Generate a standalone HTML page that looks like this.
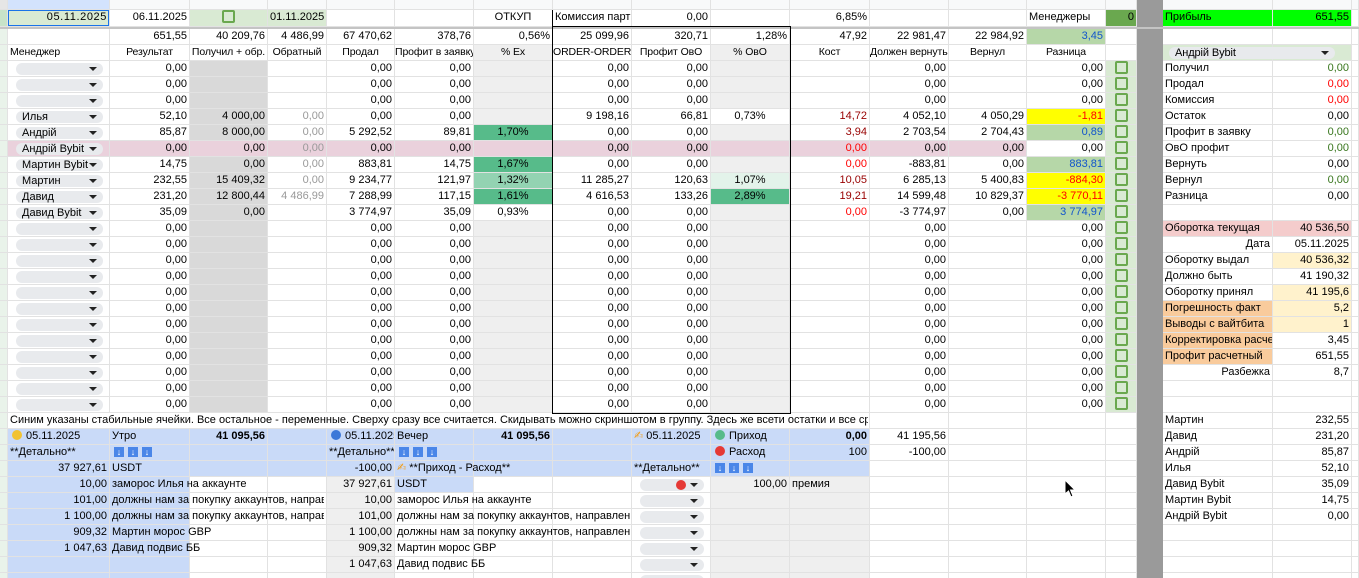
<!DOCTYPE html>
<html><head><meta charset="utf-8"><style>
*{margin:0;padding:0}
html,body{width:1359px;height:578px;overflow:hidden}
body{position:relative;background:#fff;font:11px "Liberation Sans","DejaVu Sans",sans-serif;color:#000}
.row{position:absolute;left:0;display:flex;height:16px;width:1359px}
.row>p{flex:none;box-sizing:border-box;border-right:1px solid #e2e2e2;border-bottom:1px solid #e2e2e2;height:100%;line-height:15px;padding:0 2px;white-space:nowrap;overflow:hidden;text-align:right}
.row>p:nth-child(1){width:8px;background:#e9f3ea}
.row>p:nth-child(2){width:102px}.row>p:nth-child(3){width:80px}.row>p:nth-child(4){width:78px}
.row>p:nth-child(5){width:59px}.row>p:nth-child(6){width:68px}.row>p:nth-child(7){width:79px}
.row>p:nth-child(8){width:79px}.row>p:nth-child(9){width:79px}.row>p:nth-child(10){width:79px}
.row>p:nth-child(11){width:79px}.row>p:nth-child(12){width:80px}.row>p:nth-child(13){width:79px}
.row>p:nth-child(14){width:78px}.row>p:nth-child(15){width:79px}.row>p:nth-child(16){width:31px}
.row>p:nth-child(17){width:26px;background:#9a9a9a;border-color:#9a9a9a}
.row>p:nth-child(18){width:110px}.row>p:nth-child(19){width:79px}.row>p:nth-child(20){width:7px}
.d>p:nth-child(4){background:#d9d9d9}
.d>p:nth-child(8),.d>p:nth-child(11){background:#efefef}
.d>p:nth-child(16){background:#d9ead3}
.row>p.l{text-align:left}.row>p.c{text-align:center}
.hd>p{padding:0;font-size:10.5px;letter-spacing:-0.1px}
.g{color:#999}.rd{color:#f00}.dr{color:#980000}.bl{color:#1155cc}.gr{color:#38761d}
.row>p.pk{background:#ead1dc}
.row>p.gn{background:#57bb8a}.row>p.gn2{background:#93d3b2}.row>p.gn3{background:#e3f3ea}
.row>p.yl{background:#ffff00;color:#f00}.row>p.lg{background:#b6d7a8;color:#1155cc}
.row>p.b{background:#c9daf8}.row>p.e{background:#efefef}
.row>p.w{background:#fff}
.row>p.ov{overflow:visible;position:relative;z-index:2}
.cb{display:inline-block;width:9px;height:9px;border:2px solid #6aa84f;border-radius:2px;vertical-align:middle;margin-top:-2px}
.ch{display:block;margin:2px 4px 0 6px;height:12px;line-height:12px;background:#e8eaed;border-radius:6px;text-align:left;padding-left:6px;font-style:normal;position:relative}
.ch:after{content:"";position:absolute;right:6px;top:4px;border:4px solid transparent;border-top:4px solid #222;border-bottom:0}
.dot{display:inline-block;width:10px;height:10px;border-radius:50%;vertical-align:middle;margin:-2px 4px 0 2px}
.ic{display:inline-block;width:10px;height:10px;background:#4a86e8;color:#fff;font-size:9px;line-height:10px;text-align:center;margin:0 2px 0 2px;vertical-align:middle;font-style:normal}
.sep{position:absolute;left:0;top:27px;width:1359px;height:2px;background:#c4c4c4}
.cl{display:block;overflow:hidden}
</style></head><body>

<div class="row" style="top:0;height:10px;background:#f8f9fa"><p style="background:#e6e6e6"><p style="background:#d3e3fd"><p><p><p><p><p><p><p><p><p><p><p><p><p><p><p><p><p><p></div>

<div class="row" style="top:10px;height:17px"><p style="background:#c7e3c9"><p style="background:#d9ead3;box-shadow:inset 0 0 0 1px #1a73e8;letter-spacing:.6px">05.11.2025<p>06.11.2025<p class="c" style="background:#d9ead3"><i class="cb"></i><p class="l" style="background:#d9ead3">01.11.2025<p><p><p class="c">ОТКУП<p class="l">Комиссия партн<p>0,00<p><p>6,85%<p><p><p class="l">Менеджеры<p style="background:#6aa84f">0<p><p class="l" style="background:#00ff00">Прибыль<p style="background:#00ff00">651,55<p></div>
<div class="sep"></div>

<div class="row" style="top:29px"><p><p><p>651,55<p>40 209,76<p>4 486,99<p>67 470,62<p>378,76<p>0,56%<p>25 099,96<p>320,71<p>1,28%<p>47,92<p>22 981,47<p>22 984,92<p class="lg">3,45<p><p><p><p><p></div>

<div class="row hd" style="top:45px"><p><p class="l" style="padding-left:2px">Менеджер<p class="c">Результат<p class="c">Получил + обр.<p class="c">Обратный<p class="c">Продал<p class="l">Профит в заявку<p class="c" style="background:#efefef">% Ex<p class="c">ORDER-ORDER<p class="c">Профит ОвО<p class="c" style="background:#efefef">% ОвО<p class="c">Кост<p class="l">Должен вернуть<p class="c">Вернул<p class="c">Разница<p><p><p class="ov" style="background:#d9ead3"><i class="ch" style="width:160px;font-size:11px">Андрій Bybit</i><p style="background:#d9ead3"><p></div>

<div class="row d" style="top:61px"><p><p><i class="ch">&nbsp;</i><p>0,00<p><p><p>0,00<p>0,00<p><p>0,00<p>0,00<p><p><p>0,00<p><p>0,00<p class="c"><i class="cb"></i><p><p class="l">Получил<p class="gr">0,00<p></div>
<div class="row d" style="top:77px"><p><p><i class="ch">&nbsp;</i><p>0,00<p><p><p>0,00<p>0,00<p><p>0,00<p>0,00<p><p><p>0,00<p><p>0,00<p class="c"><i class="cb"></i><p><p class="l">Продал<p class="rd">0,00<p></div>
<div class="row d" style="top:93px"><p><p><i class="ch">&nbsp;</i><p>0,00<p><p><p>0,00<p>0,00<p><p>0,00<p>0,00<p><p><p>0,00<p><p>0,00<p class="c"><i class="cb"></i><p><p class="l">Комиссия<p class="rd">0,00<p></div>
<div class="row d" style="top:109px"><p><p><i class="ch">Илья</i><p>52,10<p>4 000,00<p class="g">0,00<p>0,00<p>0,00<p><p>9 198,16<p>66,81<p class="c w">0,73%<p class="dr">14,72<p>4 052,10<p>4 050,29<p class="yl">-1,81<p class="c"><i class="cb"></i><p><p class="l">Остаток<p>0,00<p></div>
<div class="row d" style="top:125px"><p><p><i class="ch">Андрій</i><p>85,87<p>8 000,00<p class="g">0,00<p>5 292,52<p>89,81<p class="c gn">1,70%<p>0,00<p>0,00<p><p class="dr">3,94<p>2 703,54<p>2 704,43<p class="lg">0,89<p class="c"><i class="cb"></i><p><p class="l">Профит в заявку<p class="gr">0,00<p></div>
<div class="row d" style="top:141px"><p><p class="pk"><i class="ch">Андрій Bybit</i><p class="pk">0,00<p class="pk">0,00<p class="pk g">0,00<p class="pk">0,00<p class="pk">0,00<p class="pk"><p class="pk">0,00<p class="pk">0,00<p class="pk"><p class="pk rd">0,00<p class="pk">0,00<p class="pk">0,00<p>0,00<p class="c"><i class="cb"></i><p><p class="l">ОвО профит<p class="gr">0,00<p></div>
<div class="row d" style="top:157px"><p><p><i class="ch">Мартин Bybit</i><p>14,75<p>0,00<p class="g">0,00<p>883,81<p>14,75<p class="c gn">1,67%<p>0,00<p>0,00<p><p class="rd">0,00<p>-883,81<p>0,00<p class="lg">883,81<p class="c"><i class="cb"></i><p><p class="l">Вернуть<p>0,00<p></div>
<div class="row d" style="top:173px"><p><p><i class="ch">Мартин</i><p>232,55<p>15 409,32<p class="g">0,00<p>9 234,77<p>121,97<p class="c gn2">1,32%<p>11 285,27<p>120,63<p class="c gn3">1,07%<p class="dr">10,05<p>6 285,13<p>5 400,83<p class="yl">-884,30<p class="c"><i class="cb"></i><p><p class="l">Вернул<p class="gr">0,00<p></div>
<div class="row d" style="top:189px"><p><p><i class="ch">Давид</i><p>231,20<p>12 800,44<p class="g">4 486,99<p>7 288,99<p>117,15<p class="c gn">1,61%<p>4 616,53<p>133,26<p class="c gn">2,89%<p class="dr">19,21<p>14 599,48<p>10 829,37<p class="yl">-3 770,11<p class="c"><i class="cb"></i><p><p class="l">Разница<p>0,00<p></div>
<div class="row d" style="top:205px"><p><p><i class="ch">Давид Bybit</i><p>35,09<p>0,00<p><p>3 774,97<p>35,09<p class="c w">0,93%<p>0,00<p>0,00<p><p class="rd">0,00<p>-3 774,97<p>0,00<p class="lg">3 774,97<p class="c"><i class="cb"></i><p><p><p><p></div>
<div class="row d" style="top:221px"><p><p><i class="ch">&nbsp;</i><p>0,00<p><p><p>0,00<p>0,00<p><p>0,00<p>0,00<p><p><p>0,00<p><p>0,00<p class="c"><i class="cb"></i><p><p class="l" style="background:#f4cccc">Оборотка текущая<p style="background:#f4cccc">40 536,50<p></div>
<div class="row d" style="top:237px"><p><p><i class="ch">&nbsp;</i><p>0,00<p><p><p>0,00<p>0,00<p><p>0,00<p>0,00<p><p><p>0,00<p><p>0,00<p class="c"><i class="cb"></i><p><p>Дата<p>05.11.2025<p></div>
<div class="row d" style="top:253px"><p><p><i class="ch">&nbsp;</i><p>0,00<p><p><p>0,00<p>0,00<p><p>0,00<p>0,00<p><p><p>0,00<p><p>0,00<p class="c"><i class="cb"></i><p><p class="l">Оборотку выдал<p style="background:#fff2cc">40 536,32<p></div>
<div class="row d" style="top:269px"><p><p><i class="ch">&nbsp;</i><p>0,00<p><p><p>0,00<p>0,00<p><p>0,00<p>0,00<p><p><p>0,00<p><p>0,00<p class="c"><i class="cb"></i><p><p class="l">Должно быть<p>41 190,32<p></div>
<div class="row d" style="top:285px"><p><p><i class="ch">&nbsp;</i><p>0,00<p><p><p>0,00<p>0,00<p><p>0,00<p>0,00<p><p><p>0,00<p><p>0,00<p class="c"><i class="cb"></i><p><p class="l">Оборотку принял<p style="background:#fff2cc">41 195,6<p></div>
<div class="row d" style="top:301px"><p><p><i class="ch">&nbsp;</i><p>0,00<p><p><p>0,00<p>0,00<p><p>0,00<p>0,00<p><p><p>0,00<p><p>0,00<p class="c"><i class="cb"></i><p><p class="l" style="background:#f9cb9c">Погрешность факт<p style="background:#fff2cc">5,2<p></div>
<div class="row d" style="top:317px"><p><p><i class="ch">&nbsp;</i><p>0,00<p><p><p>0,00<p>0,00<p><p>0,00<p>0,00<p><p><p>0,00<p><p>0,00<p class="c"><i class="cb"></i><p><p class="l" style="background:#f9cb9c">Выводы с вайтбита<p style="background:#fff2cc">1<p></div>
<div class="row d" style="top:333px"><p><p><i class="ch">&nbsp;</i><p>0,00<p><p><p>0,00<p>0,00<p><p>0,00<p>0,00<p><p><p>0,00<p><p>0,00<p class="c"><i class="cb"></i><p><p class="l" style="background:#f9cb9c">Корректировка расчет<p>3,45<p></div>
<div class="row d" style="top:349px"><p><p><i class="ch">&nbsp;</i><p>0,00<p><p><p>0,00<p>0,00<p><p>0,00<p>0,00<p><p><p>0,00<p><p>0,00<p class="c"><i class="cb"></i><p><p class="l" style="background:#f9cb9c">Профит расчетный<p>651,55<p></div>
<div class="row d" style="top:365px"><p><p><i class="ch">&nbsp;</i><p>0,00<p><p><p>0,00<p>0,00<p><p>0,00<p>0,00<p><p><p>0,00<p><p>0,00<p class="c"><i class="cb"></i><p><p>Разбежка<p>8,7<p></div>
<div class="row d" style="top:381px"><p><p><i class="ch">&nbsp;</i><p>0,00<p><p><p>0,00<p>0,00<p><p>0,00<p>0,00<p><p><p>0,00<p><p>0,00<p class="c"><i class="cb"></i><p><p><p><p></div>
<div class="row d" style="top:397px"><p><p><i class="ch">&nbsp;</i><p>0,00<p><p><p>0,00<p>0,00<p><p>0,00<p>0,00<p><p><p>0,00<p><p>0,00<p class="c"><i class="cb"></i><p><p><p><p></div>

<div class="row" style="top:413px"><p><p class="l ov" style="background:#fff"><span class="cl" style="width:858px;background:#fff">Синим указаны стабильные ячейки. Все остальное - переменные. Сверху сразу все считается. Скидывать можно скриншотом в группу. Здесь же всети остатки и все сразу считается</span><p><p><p><p><p><p><p><p><p><p><p><p><p><p><p><p class="l">Мартин<p>232,55<p></div>

<div class="row" style="top:429px"><p><p class="l b"><i class="dot" style="background:#f1c232"></i>05.11.2025<p class="l b">Утро<p class="b"><b>41 095,56</b><p class="b"><p class="l b"><i class="dot" style="background:#3c78d8"></i>05.11.2025<p class="l b">Вечер<p class="b"><b>41 095,56</b><p class="b"><p class="l b"><span style="color:#f39c12">✍</span> 05.11.2025<p class="l b"><i class="dot" style="background:#57bb8a"></i>Приход<p class="b"><b>0,00</b><p>41 195,56<p><p><p><p><p class="l">Давид<p>231,20<p></div>
<div class="row" style="top:445px"><p><p class="l b">**Детально**<p class="l b"><i class="ic">↓</i><i class="ic">↓</i><i class="ic">↓</i><p class="b"><p class="b"><p class="l b">**Детально**<p class="l b"><i class="ic">↓</i><i class="ic">↓</i><i class="ic">↓</i><p class="b"><p class="b"><p class="b"><p class="l b"><i class="dot" style="background:#e53935"></i>Расход<p class="b">100<p>-100,00<p><p><p><p><p class="l">Андрій<p>85,87<p></div>
<div class="row" style="top:461px"><p><p class="b">37 927,61<p class="l b">USDT<p class="b"><p class="b"><p class="b">-100,00<p class="l b ov"><span style="color:#f39c12">✍</span> **Приход - Расход**<p class="b"><p class="b"><p class="l b">**Детально**<p class="l b"><i class="ic">↓</i><i class="ic">↓</i><i class="ic">↓</i><p class="b"><p><p><p><p><p><p class="l">Илья<p>52,10<p></div>
<div class="row" style="top:477px"><p><p class="b">10,00<p class="l b ov">заморос Илья на аккаунте<p><p><p class="e">37 927,61<p class="l b">USDT<p><p><p><i class="ch" style="margin-left:6px"><i class="dot" style="background:#e53935;position:absolute;right:18px;top:1px;margin:0"></i>&nbsp;</i><p class="e">100,00<p class="l e">премия<p><p><p><p><p><p class="l">Давид Bybit<p>35,09<p></div>
<div class="row" style="top:493px"><p><p class="b">101,00<p class="l b ov"><span class="cl" style="width:212px">должны нам за покупку аккаунтов, направление</span><p><p><p class="e">10,00<p class="l ov">заморос Илья на аккаунте<p><p><p><i class="ch">&nbsp;</i><p class="e"><p class="e"><p><p><p><p><p><p class="l">Мартин Bybit<p>14,75<p></div>
<div class="row" style="top:509px"><p><p class="b">1 100,00<p class="l b ov"><span class="cl" style="width:212px">должны нам за покупку аккаунтов, направление</span><p><p><p class="e">101,00<p class="l ov"><span class="cl" style="width:233px">должны нам за покупку аккаунтов, направление</span><p><p><p><i class="ch">&nbsp;</i><p class="e"><p class="e"><p><p><p><p><p><p class="l">Андрій Bybit<p>0,00<p></div>
<div class="row" style="top:525px"><p><p class="b">909,32<p class="l b ov">Мартин морос GBP<p><p><p class="e">1 100,00<p class="l ov"><span class="cl" style="width:233px">должны нам за покупку аккаунтов, направление</span><p><p><p><i class="ch">&nbsp;</i><p class="e"><p class="e"><p><p><p><p><p><p><p><p></div>
<div class="row" style="top:541px"><p><p class="b">1 047,63<p class="l b ov">Давид подвис ББ<p><p><p class="e">909,32<p class="l ov">Мартин морос GBP<p><p><p><i class="ch">&nbsp;</i><p class="e"><p class="e"><p><p><p><p><p><p><p><p></div>
<div class="row" style="top:557px"><p><p class="b"><p class="b"><p><p><p class="e">1 047,63<p class="l ov">Давид подвис ББ<p><p><p><i class="ch">&nbsp;</i><p class="e"><p class="e"><p><p><p><p><p><p><p><p></div>
<div class="row" style="top:573px"><p><p class="b"><p class="b"><p><p><p class="e"><p><p><p><p><i class="ch">&nbsp;</i><p class="e"><p class="e"><p><p><p><p><p><p><p><p></div>

<div style="position:absolute;left:552px;top:26px;width:237px;height:386px;border:1px solid #000;z-index:3"></div>
<div style="position:absolute;left:552px;top:10px;width:1px;height:17px;background:#000;z-index:3"></div>
<svg style="position:absolute;left:1064px;top:479px;z-index:4" width="14" height="20"><polygon points="1,1 1,15 4.5,12 7,18 9,17 6.5,11 11,11" fill="#000" stroke="#fff" stroke-width="1"/></svg>
</body></html>
